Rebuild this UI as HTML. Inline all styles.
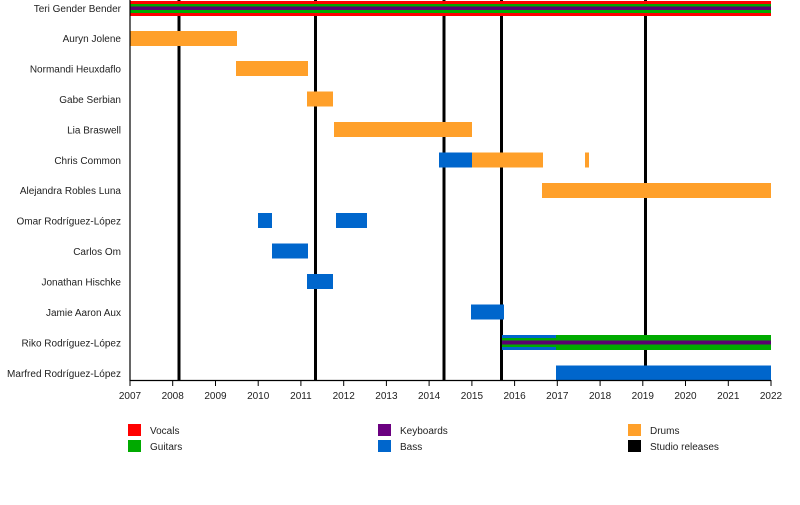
<!DOCTYPE html>
<html><head><meta charset="utf-8"><style>
body{margin:0;background:#fff;width:800px;height:500px;overflow:hidden}
svg text{font-family:"Liberation Sans",sans-serif;font-size:10px;fill:#222}
</style></head><body>
<svg width="800" height="500" xmlns="http://www.w3.org/2000/svg">
<g stroke="#000" stroke-width="3">
<line x1="179" y1="0" x2="179" y2="380"/>
<line x1="315.5" y1="0" x2="315.5" y2="380"/>
<line x1="444" y1="0" x2="444" y2="380"/>
<line x1="501.5" y1="0" x2="501.5" y2="380"/>
<line x1="645.5" y1="0" x2="645.5" y2="380"/>
</g>
<rect x="130" y="1" width="641" height="15" fill="#ff0000"/>
<rect x="130" y="4" width="641" height="9" fill="#00aa00"/>
<rect x="130" y="6.5" width="641" height="3.5" fill="#5a0070"/>
<g fill="#ffa02a">
<rect x="130" y="31" width="107" height="15"/>
<rect x="236" y="61" width="72" height="15"/>
<rect x="307" y="91.5" width="26" height="15"/>
<rect x="334" y="122" width="138" height="15"/>
<rect x="472" y="152.5" width="71" height="15"/>
<rect x="585" y="152.5" width="4" height="15"/>
<rect x="542" y="183" width="229" height="15"/>
</g>
<g fill="#0066cc">
<rect x="439" y="152.5" width="33" height="15"/>
<rect x="258" y="213" width="14" height="15"/>
<rect x="336" y="213" width="31" height="15"/>
<rect x="272" y="243.5" width="36" height="15"/>
<rect x="307" y="274" width="26" height="15"/>
<rect x="471" y="304.5" width="33" height="15"/>
<rect x="502" y="335" width="54" height="15"/>
<rect x="556" y="365.5" width="215" height="15"/>
</g>
<rect x="556" y="335" width="215" height="15" fill="#00aa00"/>
<rect x="502" y="338" width="54" height="9" fill="#00aa00"/>
<rect x="502" y="340.5" width="269" height="4" fill="#5a0070"/>
<g stroke="#000" stroke-width="1.2">
<line x1="130" y1="0" x2="130" y2="381"/>
<line x1="130" y1="380.5" x2="771" y2="380.5"/>
</g>
<g stroke="#000" stroke-width="1">
<line x1="130" y1="380" x2="130" y2="386"/><line x1="172.7" y1="380" x2="172.7" y2="386"/><line x1="215.5" y1="380" x2="215.5" y2="386"/><line x1="258.2" y1="380" x2="258.2" y2="386"/><line x1="300.9" y1="380" x2="300.9" y2="386"/><line x1="343.7" y1="380" x2="343.7" y2="386"/><line x1="386.4" y1="380" x2="386.4" y2="386"/><line x1="429.1" y1="380" x2="429.1" y2="386"/><line x1="471.9" y1="380" x2="471.9" y2="386"/><line x1="514.6" y1="380" x2="514.6" y2="386"/><line x1="557.3" y1="380" x2="557.3" y2="386"/><line x1="600.1" y1="380" x2="600.1" y2="386"/><line x1="642.8" y1="380" x2="642.8" y2="386"/><line x1="685.5" y1="380" x2="685.5" y2="386"/><line x1="728.3" y1="380" x2="728.3" y2="386"/><line x1="771" y1="380" x2="771" y2="386"/>
</g>
<g text-anchor="middle">
<text x="130" y="399">2007</text><text x="172.7" y="399">2008</text><text x="215.5" y="399">2009</text><text x="258.2" y="399">2010</text><text x="300.9" y="399">2011</text><text x="343.7" y="399">2012</text><text x="386.4" y="399">2013</text><text x="429.1" y="399">2014</text><text x="471.9" y="399">2015</text><text x="514.6" y="399">2016</text><text x="557.3" y="399">2017</text><text x="600.1" y="399">2018</text><text x="642.8" y="399">2019</text><text x="685.5" y="399">2020</text><text x="728.3" y="399">2021</text><text x="771" y="399">2022</text>
</g>
<g text-anchor="end">
<text x="121" y="12">Teri Gender Bender</text>
<text x="121" y="42">Auryn Jolene</text>
<text x="121" y="72.5">Normandi Heuxdaflo</text>
<text x="121" y="103">Gabe Serbian</text>
<text x="121" y="133.5">Lia Braswell</text>
<text x="121" y="164">Chris Common</text>
<text x="121" y="194">Alejandra Robles Luna</text>
<text x="121" y="224.5">Omar Rodríguez-López</text>
<text x="121" y="255">Carlos Om</text>
<text x="121" y="285.5">Jonathan Hischke</text>
<text x="121" y="316">Jamie Aaron Aux</text>
<text x="121" y="346.5">Riko Rodríguez-López</text>
<text x="121" y="377">Marfred Rodríguez-López</text>
</g>
<rect x="128" y="424" width="13" height="12" fill="#ff0000"/><text x="150" y="434">Vocals</text>
<rect x="128" y="440" width="13" height="12" fill="#00aa00"/><text x="150" y="450">Guitars</text>
<rect x="378" y="424" width="13" height="12" fill="#6b0080"/><text x="400" y="434">Keyboards</text>
<rect x="378" y="440" width="13" height="12" fill="#0066cc"/><text x="400" y="450">Bass</text>
<rect x="628" y="424" width="13" height="12" fill="#ffa02a"/><text x="650" y="434">Drums</text>
<rect x="628" y="440" width="13" height="12" fill="#000"/><text x="650" y="450">Studio releases</text>
</svg>
</body></html>
